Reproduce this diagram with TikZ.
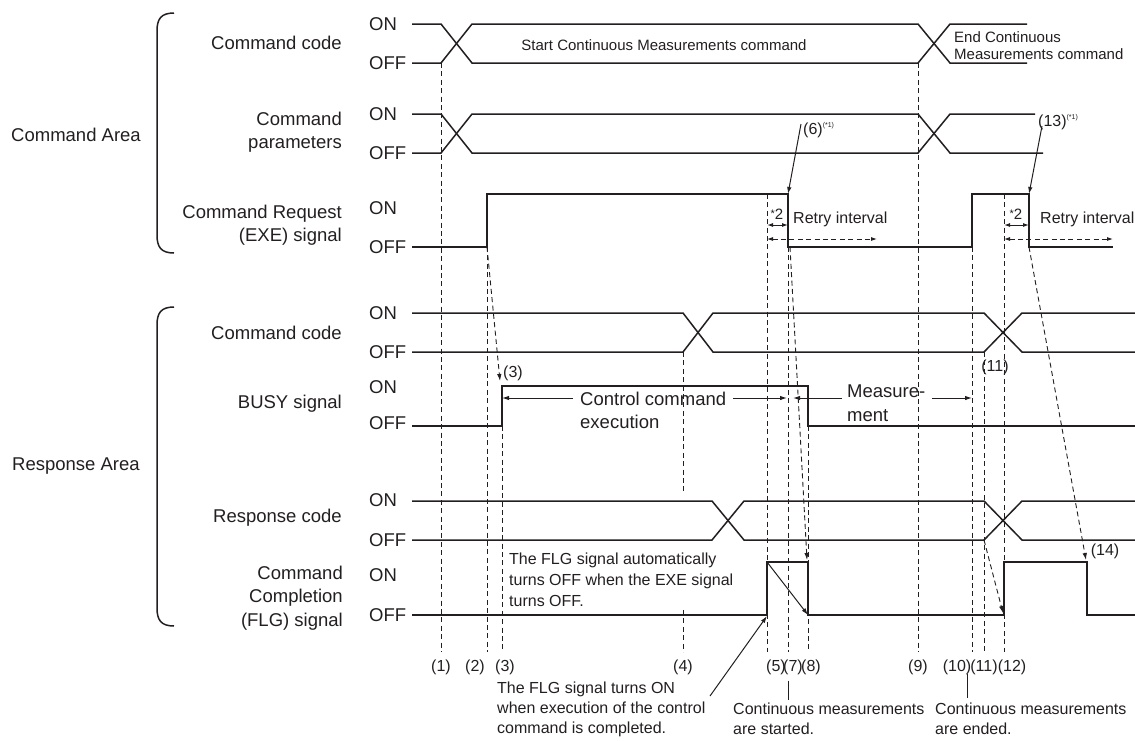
\documentclass[tikz,border=0pt]{standalone}
\usepackage{fontspec}
\setmainfont{Liberation Sans}
\usetikzlibrary{arrows.meta,positioning,calc}
\definecolor{ink}{HTML}{231F20}
\tikzset{
  sig/.style={line width=1.5pt,ink},
  dsh/.style={line width=0.9pt,ink,dash pattern=on 5pt off 3.4pt},
  arr/.style={line width=1pt,ink,-{Latex[length=7pt,width=4.5pt]}},
  darr/.style={{Latex[length=6pt,width=4pt]}-{Latex[length=6pt,width=4pt]}},
  big/.style={font=\fontsize{18.5}{23.5}\selectfont,inner sep=0pt,text=ink},
  mid/.style={font=\fontsize{16}{21}\selectfont,inner sep=0pt,text=ink},
  sml/.style={font=\fontsize{15}{17}\selectfont,inner sep=0pt,text=ink},
  lvl/.style={big,anchor=west},
  ttl/.style={big,anchor=east,align=right},
}
\newcommand{\starone}{\raisebox{7pt}{\fontsize{7}{8}\selectfont(*1)}}
\newcommand{\startwo}{\raisebox{1.5pt}{\fontsize{11}{11}\selectfont*}2}

\begin{document}
\begin{tikzpicture}[x=1pt,y=-1pt]
  \useasboundingbox (0,0) rectangle (1135,740);
  \draw[sig] (174,13) .. controls (161,13) and (157,19) .. (157,31) -- (157,235)
    .. controls (157,247) and (161,253) .. (174,253);
  \draw[sig] (174,307) .. controls (161,307) and (157,313) .. (157,325) -- (157,608)
    .. controls (157,620) and (161,626) .. (174,626);
  \node[big] (carea) at (76,135) {Command Area};
  \node[big] (rarea) at (76,466) {Response Area};
  \node[ttl] (ccode) at (342,43) {Command code};
  \node[ttl] (cpar) at (342,132) {Command\\parameters};
  \node[ttl] (exe) at (342,225) {Command Request\\(EXE) signal};
  \node[ttl] (rcode) at (342,333) {Command code};
  \node[ttl] (busy) at (342,404) {BUSY signal};
  \node[ttl] (resp) at (342,518) {Response code};
  \node[ttl] (flg) at (343,598) {Command\\Completion\\(FLG) signal};
  \foreach \on/\off in {24/63,114/153,208/247,313/352,387/423,500/540,575/615}{
    \node[lvl] (on\on) at (369,\on) {ON};
    \node[lvl] (off\off) at (369,\off) {OFF};}

  \draw[sig] (412,24) -- (441,24) -- (472,63) -- (918,63) -- (950,24) -- (1027,24);
  \draw[sig] (412,63) -- (441,63) -- (472,24) -- (918,24) -- (950,63) -- (1027,63);
  \draw[sig] (412,114) -- (441,114) -- (472,153) -- (918,153) -- (950,114) -- (1035,114);
  \draw[sig] (412,153) -- (441,153) -- (472,114) -- (918,114) -- (950,153) -- (1043,153);
  \draw[sig] (412,247) -- (487,247) -- (487,194) -- (788,194) -- (788,247) -- (972,247)
    -- (972,194) -- (1029,194) -- (1029,247) -- (1113,247);
  \draw[sig] (412,313) -- (683,313) -- (713,352) -- (984,352) -- (1022,313) -- (1135,313);
  \draw[sig] (412,352) -- (683,352) -- (713,313) -- (984,313) -- (1022,352) -- (1135,352);
  \draw[sig] (412,426) -- (502,426) -- (502,386) -- (808,386) -- (808,426) -- (1135,426);
  \draw[sig] (412,501) -- (712,501) -- (744,540) -- (984,540) -- (1022,501) -- (1135,501);
  \draw[sig] (412,540) -- (712,540) -- (744,501) -- (984,501) -- (1022,540) -- (1135,540);
  \draw[sig] (412,615) -- (767,615) -- (767,562) -- (808,562) -- (808,615) -- (1004,615)
    -- (1004,562) -- (1087,562) -- (1087,615) -- (1135,615);

  \foreach \x/\a in {441/63,487/247,502/426,767/194,788/247,808/426,918/63,972/247,984/352,1004/194}
    \draw[dsh] (\x,\a) -- (\x,652);
  \draw[dsh] (683,352) -- (683,492) (683,610) -- (683,652);
  \foreach \x/\t in {441/1,475/2,505/3,683/4,776/5,793/7,811/8,918/9,957/10,984/11,1012/12}
    \node[mid] (t\t) at (\x,667) {(\t)};

  \node[sml] (start) at (664,45) {Start Continuous Measurements command};
  \node[sml,align=left,anchor=west] (end) at (954,46) {End Continuous\\Measurements command};

  \node[mid,anchor=base west] (l6) at (803,134) {(6)\starone};
  \node[mid,anchor=base west] (l13) at (1038,126) {(13)\starone};
  \coordinate (e6) at (788,194);
  \coordinate (e13) at (1029,194);
  \draw[arr] ($(l6.base west)+(-2,-10)$) -- (e6);
  \draw[arr] ($(l13.base west)+(4,0)$) -- (e13);

  \node[sml] (s2a) at (777,214) {\startwo};
  \node[sml] (s2b) at (1016,214) {\startwo};
  \draw[line width=1pt,ink,darr] (767,225) -- (788,225);
  \draw[line width=1pt,ink,darr] (1004,225) -- (1029,225);
  \node[mid,anchor=west] (retry1) at (793,219) {Retry interval};
  \node[mid,anchor=west] (retry2) at (1040,219) {Retry interval};
  \draw[dsh,darr] (767,239) -- (877,239);
  \draw[dsh,darr] (1004,239) -- (1113,239);

  \node[mid] (l3) at (513,373) {(3)};
  \draw[dsh,-{Latex[length=7pt,width=4.5pt]}] (487,247) -- (500,381);
  \node[big,align=left,anchor=north west] (ctrl) at (580,391.5) {Control command\\execution};
  \draw[arr] (573,398) -- (502,398);
  \draw[arr] (733,398) -- (787,398);
  \node[big,align=left,anchor=north west] (meas) at (847,385) {Measure-\\ment};
  \draw[arr] (842,398) -- (793,398);
  \draw[arr] (932,398) -- (972,398);
  \node[mid] (l11) at (995,367) {(11)};
  \node[mid] (l14) at (1105,551) {(14)};

  \draw[dsh,-{Latex[length=7pt,width=4.5pt]}] (790,247) -- (807,560);
  \draw[dsh,-{Latex[length=7pt,width=4.5pt]}] (984,540) -- (1003,613);
  \draw[dsh,-{Latex[length=7pt,width=4.5pt]}] (1029,247) -- (1086,560);
  \draw[arr] (767,562) -- (808,615);

  \node[mid,align=left,anchor=north west] (autooff) at (509,553)
    {The FLG signal automatically\\turns OFF when the EXE signal\\turns OFF.};
  \node[mid,align=left,anchor=north west,font=\fontsize{16}{20}\selectfont] (flgon) at (497,682)
    {The FLG signal turns ON\\when execution of the control\\command is completed.};
  \draw[arr] (710,696) -- (767,616);
  \node[mid,align=left,anchor=north west,font=\fontsize{16}{20}\selectfont] (started) at (733,703)
    {Continuous measurements\\are started.};
  \node[mid,align=left,anchor=north west,font=\fontsize{16}{20}\selectfont] (ended) at (935,703)
    {Continuous measurements\\are ended.};
  \draw[line width=1pt,ink] (t7.south) ++(-5,6) -- ++(0,19);
  \draw[line width=1pt,ink] (967,674) -- (967,698);
\end{tikzpicture}
\end{document}
